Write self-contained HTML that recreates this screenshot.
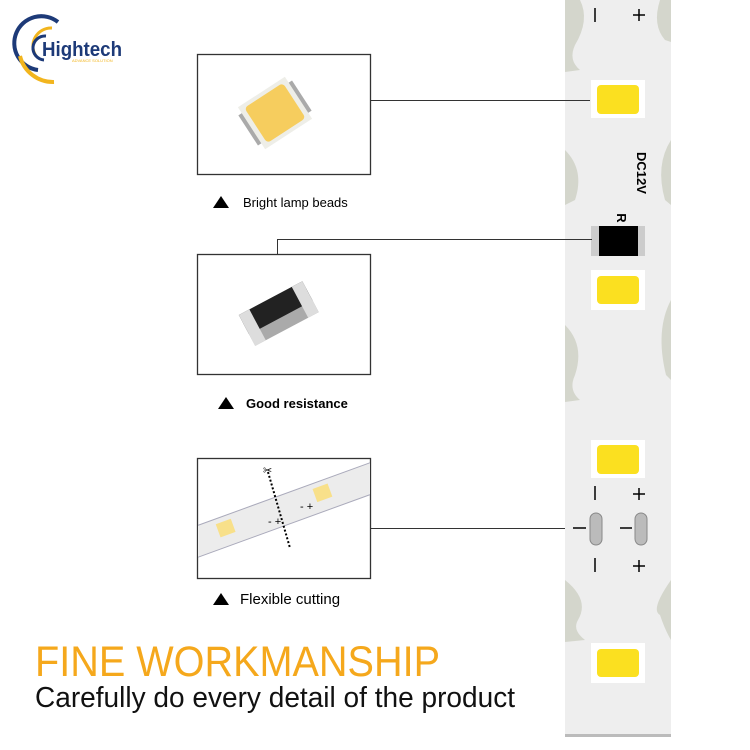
<!DOCTYPE html>
<html><head><meta charset="utf-8"><style>html,body{margin:0;padding:0;background:#fff}svg{display:block}</style></head>
<body>
<svg width="750" height="750" viewBox="0 0 750 750" xmlns="http://www.w3.org/2000/svg" font-family="Liberation Sans, sans-serif">
<defs><clipPath id="c3"><rect x="198" y="459" width="172" height="119"/></clipPath></defs>
<rect width="750" height="750" fill="#fff"/>
<!-- logo -->
<path d="M38 70 A27 27 0 1 1 58 22" fill="none" stroke="#1d3a78" stroke-width="4"/>
<path d="M36 56 A18 18 0 0 1 52 28" fill="none" stroke="#f2b51e" stroke-width="3"/>
<path d="M20 56 A34 34 0 0 0 54 82" fill="none" stroke="#f2b51e" stroke-width="4"/>
<path d="M44 60 A12 12 0 0 1 46 36" fill="none" stroke="#1d3a78" stroke-width="3"/>
<text x="42" y="56" font-size="20" font-weight="bold" fill="#1d3a78" textLength="80" lengthAdjust="spacingAndGlyphs">Hightech</text>
<text x="72" y="62" font-size="4" fill="#f2b51e">ADVANCE SOLUTION</text>
<!-- strip -->
<rect x="565" y="0" width="106" height="736" fill="#eeeeee"/>
<rect x="565" y="734" width="106" height="3" fill="#bbb"/>
<g fill="#d4d6cc">
<path d="M565 0 L580 0 Q590 20 575 45 Q568 60 580 70 L565 72Z"/>
<path d="M671 0 L660 0 Q652 25 665 40 L671 42Z"/>
<path d="M565 150 Q585 170 575 200 L565 205Z"/>
<path d="M671 140 Q655 165 665 200 L671 205Z"/>
<path d="M565 325 Q585 345 575 375 Q568 390 580 400 L565 402Z"/>
<path d="M671 300 Q655 330 666 375 L671 380Z"/>
<path d="M565 580 Q590 600 578 620 Q572 630 585 640 L565 642Z"/>
<path d="M671 580 Q650 610 660 615 Q665 630 671 640Z"/>
</g>
<g>
<rect x="591" y="80" width="54" height="38" fill="#fff"/><rect x="597" y="85" width="42" height="29" rx="4" fill="#fbe020"/>
<rect x="591" y="270" width="54" height="40" fill="#fff"/><rect x="597" y="276" width="42" height="28" rx="4" fill="#fbe020"/>
<rect x="591" y="440" width="54" height="38" fill="#fff"/><rect x="597" y="445" width="42" height="29" rx="4" fill="#fbe020"/>
<rect x="591" y="643" width="54" height="40" fill="#fff"/><rect x="597" y="649" width="42" height="28" rx="4" fill="#fbe020"/>
</g>
<rect x="591" y="226" width="54" height="30" fill="#ccc"/>
<rect x="599" y="226" width="39" height="30" fill="#000"/>
<text x="617" y="218" font-size="13" font-weight="bold" transform="rotate(90 617 218)" text-anchor="middle">R</text>
<text x="637" y="152" font-size="13" font-weight="bold" transform="rotate(90 637 152)">DC12V</text>
<g stroke="#000" stroke-width="1.5" fill="none">
<path d="M595 8 V22 M633 15 H645 M639 9 V21"/>
<path d="M595 486 V500 M633 494 H645 M639 488 V500"/>
<path d="M595 558 V572 M633 566 H645 M639 560 V572"/>
<path d="M573 528 H586 M620 528 H632"/>
</g>
<rect x="590" y="513" width="12" height="32" rx="6" fill="#bbb" stroke="#888"/>
<rect x="635" y="513" width="12" height="32" rx="6" fill="#bbb" stroke="#888"/>
<!-- connectors -->
<g stroke="#333" stroke-width="1" fill="none">
<path d="M370 100.5 H590"/>
<path d="M277.5 254 V239.5 H592"/>
<path d="M370 528.5 H565"/>
</g>
<!-- boxes -->
<g stroke="#333" stroke-width="1.3" fill="#fff">
<rect x="197.5" y="54.5" width="173" height="120"/>
<rect x="197.5" y="254.5" width="173" height="120"/>
<rect x="197.5" y="458.5" width="173" height="120"/>
</g>
<!-- box1 led -->
<g transform="rotate(-33 275 113)">
<rect x="243" y="95" width="6" height="36" fill="#aaa"/><rect x="301" y="95" width="6" height="36" fill="#aaa"/>
<rect x="247" y="88" width="56" height="50" fill="#eeeee8"/>
<rect x="252" y="92" width="46" height="42" rx="4" fill="#f6cd5e"/>
</g>
<!-- box2 resistor -->
<g transform="rotate(-28 280 318)">
<rect x="245" y="305" width="72" height="26" fill="#aaa"/>
<rect x="245" y="296" width="72" height="22" fill="#222"/>
<rect x="245" y="296" width="12" height="35" fill="#ddd"/>
<rect x="305" y="296" width="12" height="35" fill="#ddd"/>
</g>
<!-- box3 strip -->
<g clip-path="url(#c3)">
<g transform="rotate(-20 284 510)">
<rect x="170" y="495" width="240" height="30" fill="#ececec" stroke="#aab" stroke-width="1"/>
<rect x="215" y="500" width="16" height="14" fill="#f8e08a"/>
<rect x="318" y="500" width="16" height="14" fill="#f8e08a"/>
</g>
</g>
<path d="M268 472 L290 548" stroke="#000" stroke-width="2" stroke-dasharray="2 2"/>
<text x="263" y="474" font-size="11">✂</text>
<text x="268" y="525" font-size="11">-  +</text>
<text x="300" y="510" font-size="11">- +</text>
<!-- labels -->
<g font-size="13" fill="#000">
<path d="M213 208 L221 196 L229 208Z"/><text x="243" y="207">Bright lamp beads</text>
<path d="M218 409 L226 397 L234 409Z"/><text x="246" y="408" font-weight="bold">Good resistance</text>
<path d="M213 605 L221 593 L229 605Z"/><text x="240" y="604" font-size="15">Flexible cutting</text>
</g>
<text x="35" y="676" font-size="43" fill="#f5a81c" textLength="405" lengthAdjust="spacingAndGlyphs">FINE WORKMANSHIP</text>
<text x="35" y="707" font-size="29" fill="#111" textLength="480" lengthAdjust="spacingAndGlyphs">Carefully do every detail of the product</text>
</svg>
</body></html>
